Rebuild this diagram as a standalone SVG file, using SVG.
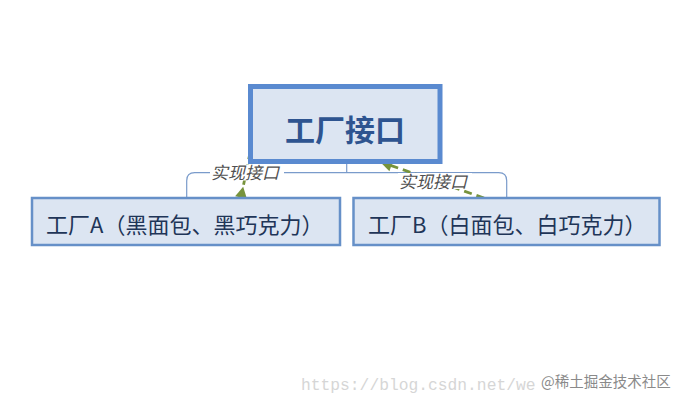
<svg xmlns="http://www.w3.org/2000/svg" width="683" height="405" viewBox="0 0 683 405">
<style>
.box{fill:#DCE5F2;stroke:#6690C8;stroke-width:2.5}
.top{fill:#DCE5F2;stroke:#5A8AD0;stroke-width:5}
.cjk{font-family:"Noto Sans CJK SC","Liberation Sans",sans-serif}
.title{font-size:30px;font-weight:bold;fill:#2E5490}
.name{font-size:22px;fill:#1F3558}
.lbl{font-size:17px;font-style:italic;fill:#505050}
.tree{fill:none;stroke:#7A9BCB;stroke-width:1.2}
.impl{fill:none;stroke:#77933C;stroke-width:2.8;stroke-dasharray:8 5}
.lblbg{fill:#FFFFFF}
</style>
<defs>
<marker id="arrEnd" markerUnits="userSpaceOnUse" markerWidth="14" markerHeight="14" viewBox="0 -7 12 14" refX="11" refY="0" orient="auto">
<path d="M0,-6 L12,0 L0,6 z" fill="#77933C"/>
</marker>
<marker id="arrStart" markerUnits="userSpaceOnUse" markerWidth="14" markerHeight="14" viewBox="0 -7 12 14" refX="0" refY="0" orient="auto">
<path d="M0,-6 L11,0 L0,6 z" fill="#77933C"/>
</marker>
</defs>
<rect width="683" height="405" fill="#FFFFFF"/>
<g id="connectors">
<path class="tree" d="M186.7,197 V180.7 Q186.7,172.7 194.7,172.7 H498.7 Q506.7,172.7 506.7,180.7 V197"/>
<path class="tree" d="M346.7,164 V172.7"/>
<path class="impl" d="M241,197.5 L251,148" marker-start="url(#arrStart)"/>
<path class="impl" d="M484,198 L381,162" marker-end="url(#arrEnd)"/>
</g>
<g id="node-factory-interface">
<rect class="top" x="250.5" y="86.5" width="189.5" height="75"/>
<text class="cjk title" x="345" y="140.5" text-anchor="middle">工厂接口</text>
</g>
<g id="node-factory-a">
<rect class="box" x="32" y="198" width="308" height="47"/>
<text class="cjk name" x="46" y="232.5">工厂A（黑面包、黑巧克力）</text>
</g>
<g id="node-factory-b">
<rect class="box" x="353.5" y="198" width="306" height="47"/>
<text class="cjk name" x="368" y="232.5">工厂B（白面包、白巧克力）</text>
</g>
<g id="connector-labels">
<rect class="lblbg" x="210" y="164.5" width="74" height="16"/>
<text class="cjk lbl" x="211" y="178.5">实现接口</text>
<rect class="lblbg" x="398" y="173" width="74" height="16"/>
<text class="cjk lbl" x="399" y="187.5">实现接口</text>
</g>
<g id="watermark">
<text x="301" y="389.5" font-family="Liberation Mono, monospace" font-size="16.3" fill="#D6D6D6">https://blog.csdn.net/we</text>
<text class="cjk" x="541" y="387" font-size="14.5" fill="#8A8A8A">@稀土掘金技术社区</text>
</g>
</svg>
